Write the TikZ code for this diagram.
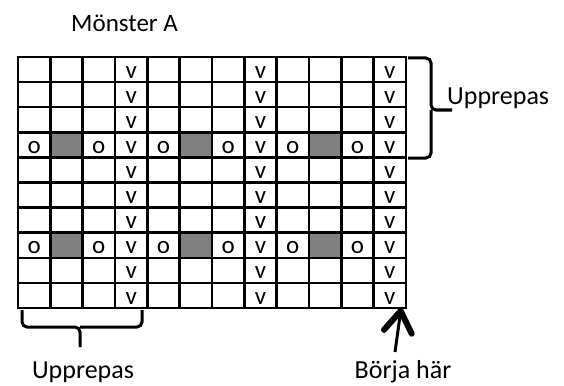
\documentclass[tikz,border=0pt]{standalone}
\usepackage{fontspec}
\setmainfont{Carlito}
\usetikzlibrary{arrows.meta}

\begin{document}
\begin{tikzpicture}[
  x=1pt, y=-1pt,
  gridline/.style={line width=2.6pt, line cap=rect},
  shade/.style={fill=black!50},
  stitch/.style={anchor=base, yshift=4pt, inner sep=0pt, font=\fontsize{25}{28}\selectfont},
  caption/.style={inner sep=0pt, font=\fontsize{26}{30}\selectfont},
  bracket/.style={line width=3pt, rounded corners=5pt},
  start/.style={line width=3pt, -{Straight Barb[length=21pt, width=28pt, line width=6pt, round]}},
]
\useasboundingbox (0,0) rectangle (564,385);

% the chart
\begin{scope}[shift={(18,57)}, x=32.33pt, y=-25.1pt]
  \foreach \r in {3,7}
    \foreach \c in {1,5,9}
      \fill[shade] (\c,\r) rectangle (\c+1,\r+1);
  \foreach \r in {0,...,10}
    \draw[gridline] (0,\r) -- (12,\r);
  \foreach \c in {0,...,12}
    \draw[gridline] (\c,0) -- (\c,10);
  \foreach \c in {3,7,11}
    \foreach \r in {0,...,9}
      \node[stitch] (v-\r-\c) at (\c+0.5,\r+1) {v};
  \foreach \r in {3,7}
    \foreach \c in {0,2,4,6,8,10}
      \node[stitch] (o-\r-\c) at (\c+0.5,\r+1) {o};
  \coordinate (chart-start) at (11.85,10);
\end{scope}

% labels
\node[caption, anchor=base west, font=\fontsize{25}{28}\selectfont] (title) at (71,32) {Mönster A};
\node[caption, anchor=base west] (repeat-rows) at (447,105) {Upprepas};
\node[caption, anchor=base] (repeat-cols) at (83,378) {Upprepas};
\node[caption, anchor=base] (begin) at (403,378) {Börja här};

% braces
\draw[bracket] (408,58) -| (431,110) -- (452,110);
\draw[bracket] (408,158) -| (431,110);
\draw[bracket] (22,310) |- (80,327) -- (80,347);
\draw[bracket] (142,310) |- (80,327);

% start arrow
\coordinate (arrow-foot) at (395,352);
\draw[start] (arrow-foot) -- (chart-start);
\end{tikzpicture}
\end{document}
